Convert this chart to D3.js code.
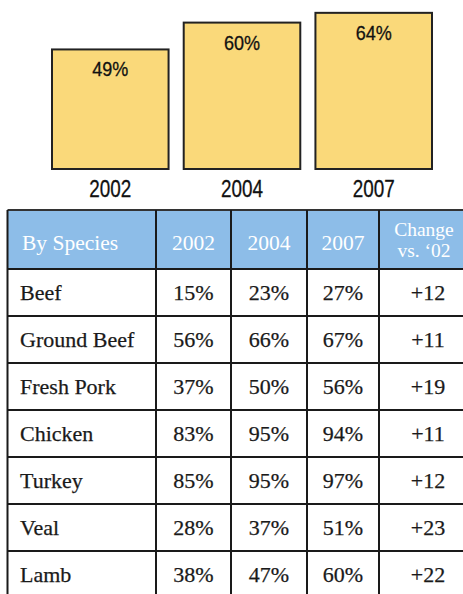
<!DOCTYPE html>
<html>
<head>
<meta charset="utf-8">
<script src="https://cdn.jsdelivr.net/npm/d3@7"></script>
<style>
  html, body { margin: 0; padding: 0; background: #fff; }
  svg { display: block; }
</style>
</head>
<body>
<svg id="chart" width="463" height="594"></svg>
<script>
// ---- data ----
const years = ["2002", "2004", "2007"];
const overall = [49, 60, 64];
const species = ["Beef", "Ground Beef", "Fresh Pork", "Chicken", "Turkey", "Veal", "Lamb"];
const v2002 = [15, 56, 37, 83, 85, 28, 38];
const v2004 = [23, 66, 50, 95, 95, 37, 47];
const v2007 = [27, 67, 56, 94, 97, 51, 60];
const change = [12, 11, 19, 11, 12, 23, 22];
const headers = ["By Species", "2002", "2004", "2007", ["Change", "vs. \u201802"]];

const svg = d3.select("#chart");
const sans = "'Liberation Sans', Arial, sans-serif";
const serif = "'Liberation Serif', 'Times New Roman', serif";

// ---- bar chart ----
const x = d3.scaleBand().domain(years).range([52, 432]).paddingInner(0.115).paddingOuter(0);
const y = d3.scaleLinear().domain([0, 100]).range([169, -75]);
const bars = years.map((yr, i) => ({ yr, v: overall[i] }));

const bg = svg.append("g");
bg.selectAll("rect").data(bars).join("rect")
  .attr("x", d => x(d.yr))
  .attr("y", d => y(d.v))
  .attr("width", x.bandwidth())
  .attr("height", d => y(0) - y(d.v))
  .attr("fill", "#FAD97A")
  .attr("stroke", "#222")
  .attr("stroke-width", 2);

// condensed look via horizontal scaling
bg.selectAll("text.val").data(bars).join("text")
  .attr("class", "val")
  .attr("transform", d => `translate(${x(d.yr) + x.bandwidth() / 2},${y(d.v) + 27}) scale(0.86,1)`)
  .attr("text-anchor", "middle")
  .attr("font-family", sans)
  .attr("font-size", 21)
  .attr("stroke", "#111").attr("stroke-width", 0.3)
  .attr("fill", "#111")
  .text(d => d.v + "%");

bg.selectAll("text.yr").data(bars).join("text")
  .attr("class", "yr")
  .attr("transform", d => `translate(${x(d.yr) + x.bandwidth() / 2},197) scale(0.82,1)`)
  .attr("text-anchor", "middle")
  .attr("font-family", sans)
  .attr("font-size", 23)
  .attr("stroke", "#111").attr("stroke-width", 0.3)
  .attr("fill", "#111")
  .text(d => d.yr);

// ---- table ----
const colEdges = [7.5, 156, 231, 307, 379, 477];
const tableTop = 210, headerBottom = 269;
const rowY = d3.scaleBand().domain(species).range([headerBottom, headerBottom + 47 * species.length]);

const tg = svg.append("g");
tg.append("rect")
  .attr("x", colEdges[0]).attr("y", tableTop)
  .attr("width", colEdges[5] - colEdges[0]).attr("height", headerBottom - tableTop)
  .attr("fill", "#8DBDE8");

// header text
headers.forEach((h, i) => {
  const anchor = i === 0 ? "start" : "middle";
  if (Array.isArray(h)) {
    const cx = 424;
    tg.append("text").attr("x", cx).attr("y", 236).attr("text-anchor", anchor)
      .attr("font-family", serif).attr("font-size", 19.5).attr("fill", "#fff").text(h[0]);
    tg.append("text").attr("x", cx).attr("y", 257).attr("text-anchor", anchor)
      .attr("font-family", serif).attr("font-size", 19.5).attr("fill", "#fff").text(h[1]);
  } else {
    const cx = i === 0 ? 22 : (colEdges[i] + colEdges[i + 1]) / 2;
    tg.append("text").attr("x", cx).attr("y", 250).attr("text-anchor", anchor)
      .attr("font-family", serif).attr("font-size", 21.5).attr("fill", "#fff").text(h);
  }
});

// body
const rows = species.map((s, i) => ({ s, c: [s, v2002[i] + "%", v2004[i] + "%", v2007[i] + "%", "+" + change[i]] }));
rows.forEach(r => {
  r.c.forEach((txt, j) => {
    const cx = j === 0 ? 20 : (j === 4 ? 428 : (colEdges[j] + colEdges[j + 1]) / 2);
    tg.append("text")
      .attr("x", cx)
      .attr("y", rowY(r.s) + rowY.bandwidth() / 2 + 7)
      .attr("text-anchor", j === 0 ? "start" : "middle")
      .attr("font-family", serif)
      .attr("font-size", 22)
      .attr("fill", "#1a1a1a")
      .attr("stroke", "#1a1a1a").attr("stroke-width", 0.25)
      .text(txt);
  });
});

// grid lines
const lineCol = "#1a1a1a";
const bottom = headerBottom + 47 * species.length;
tg.append("line").attr("x1", colEdges[0]).attr("x2", 463).attr("y1", tableTop).attr("y2", tableTop)
  .attr("stroke", "#333").attr("stroke-width", 2);
[headerBottom].concat(species.map(s => rowY(s) + rowY.bandwidth())).forEach(yy => {
  tg.append("line").attr("x1", colEdges[0]).attr("x2", 463).attr("y1", yy).attr("y2", yy)
    .attr("stroke", lineCol).attr("stroke-width", 2);
});
colEdges.slice(0, 5).forEach(xx => {
  tg.append("line").attr("x1", xx).attr("x2", xx).attr("y1", tableTop).attr("y2", bottom)
    .attr("stroke", lineCol).attr("stroke-width", 2);
});
</script>
</body>
</html>
